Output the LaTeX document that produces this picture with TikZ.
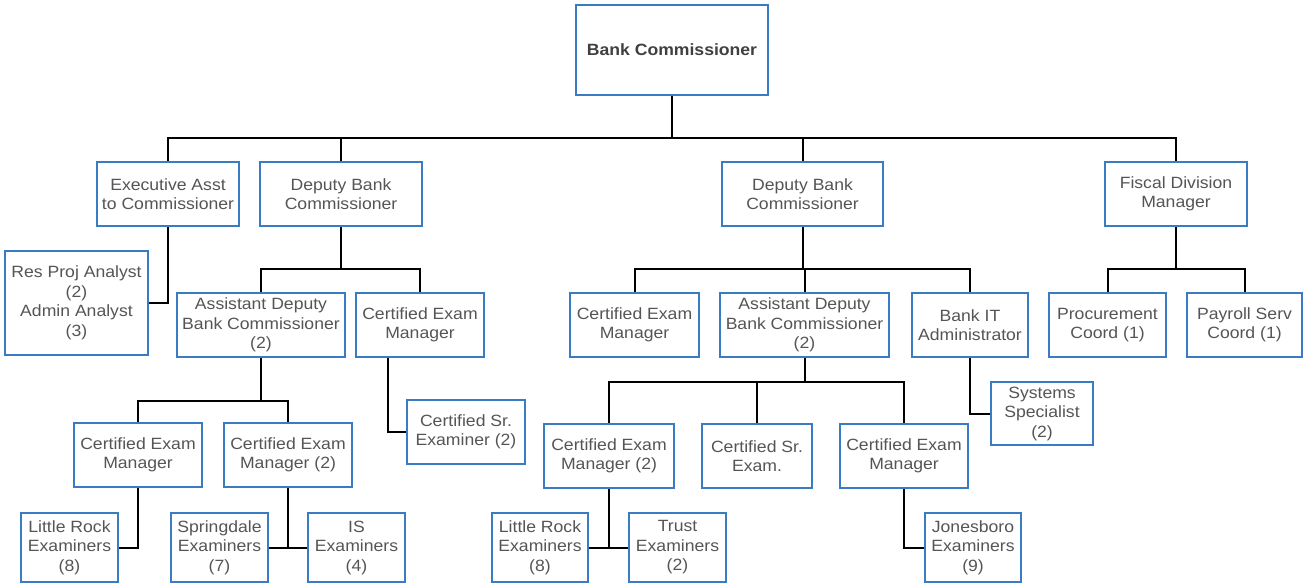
\documentclass[tikz,border=0pt]{standalone}
\usepackage{fontspec}
\setmainfont{Liberation Sans}[FakeStretch=1.08]
\definecolor{boxblue}{RGB}{58,124,196}
\definecolor{txtgray}{RGB}{85,85,85}
\definecolor{bctxt}{RGB}{64,64,64}
\begin{document}
\begin{tikzpicture}[x=1pt,y=-1pt,
  box/.style={draw=boxblue,line width=2.4pt,fill=white,inner sep=0pt,align=center,
    text=txtgray,font=\fontsize{16.3}{19.5}\selectfont,minimum height=64pt},
  conn/.style={draw=black,line width=2pt}]
\useasboundingbox[fill=white] (0,0) rectangle (1307,586);
% level 1
\node[box,minimum width=192pt,minimum height=90pt,text=bctxt,font=\fontsize{16.3}{19.5}\selectfont\bfseries] (bc) at (672,50) {Bank Commissioner};
% level 2
\node[box,minimum width=142pt] (ea) at (168,194) {Executive Asst\\to Commissioner};
\node[box,minimum width=162pt] (dl) at (341,194) {Deputy Bank\\Commissioner};
\node[box,minimum width=161pt] (dm) at (802.5,194) {Deputy Bank\\Commissioner};
\node[box,minimum width=142pt] (fm) at (1176,194) {Fiscal Division\\Manager};
% level 3
\node[box,minimum width=143pt,minimum height=104pt] (rp) at (76.5,303) {Res Proj Analyst\\(2)\\Admin Analyst\\(3)};
\node[box,minimum width=168pt] (adl) at (261,325) {Assistant Deputy\\Bank Commissioner\\(2)};
\node[box,minimum width=128pt] (cml) at (420,325) {Certified Exam\\Manager};
\node[box,minimum width=129pt] (cmm) at (634.5,325) {Certified Exam\\Manager};
\node[box,minimum width=169pt] (adm) at (804.5,325) {Assistant Deputy\\Bank Commissioner\\(2)};
\node[box,minimum width=116pt] (it) at (970,325) {Bank IT\\Administrator};
\node[box,minimum width=117pt] (pc) at (1107.5,325) {Procurement\\Coord (1)};
\node[box,minimum width=115pt] (ps) at (1244.5,325) {Payroll Serv\\Coord (1)};
\node[box,minimum width=102pt,minimum height=63pt] (ss) at (1042,413.5) {Systems\\Specialist\\(2)};
% level 4
\node[box,minimum width=128pt] (ce1) at (138,455) {Certified Exam\\Manager};
\node[box,minimum width=128pt] (ce2) at (288,455) {Certified Exam\\Manager (2)};
\node[box,minimum width=118pt] (sr1) at (466,432) {Certified Sr.\\Examiner (2)};
\node[box,minimum width=130pt] (ce3) at (609,456) {Certified Exam\\Manager (2)};
\node[box,minimum width=110pt] (sr2) at (757,456) {Certified Sr.\\Exam.};
\node[box,minimum width=128pt] (ce4) at (904,456) {Certified Exam\\Manager};
% level 5
\node[box,minimum width=97pt,minimum height=69pt] (lr1) at (69.5,547.5) {Little Rock\\Examiners\\(8)};
\node[box,minimum width=97pt,minimum height=69pt] (sp) at (219.5,547.5) {Springdale\\Examiners\\(7)};
\node[box,minimum width=97pt,minimum height=69pt] (is) at (356.5,547.5) {IS\\Examiners\\(4)};
\node[box,minimum width=96pt,minimum height=69pt] (lr2) at (540,547.5) {Little Rock\\Examiners\\(8)};
\node[box,minimum width=97pt,minimum height=69pt] (tr) at (677.5,547.5) {Trust\\Examiners\\(2)};
\node[box,minimum width=96pt,minimum height=69pt] (jb) at (973,547.5) {Jonesboro\\Examiners\\(9)};
% connectors
\begin{scope}[on background layer/.style={}]
\draw[conn] (bc.south) -- ++(0,42) -| (ea.north);
\draw[conn] (bc.south) -- ++(0,42) -| (dl.north);
\draw[conn] (bc.south) -- ++(0,42) -| (dm.north);
\draw[conn] (bc.south) -- ++(0,42) -| (fm.north);
\draw[conn] (ea.south) |- (rp.east);
\draw[conn] (dl.south) -- ++(0,42) -| (adl.north);
\draw[conn] (dl.south) -- ++(0,42) -| (cml.north);
\draw[conn] (dm.south) -- ++(0,42) -| (cmm.north);
\draw[conn] (dm.south) -- ++(0,42) -| (adm.north);
\draw[conn] (dm.south) -- ++(0,42) -| (it.north);
\draw[conn] (fm.south) -- ++(0,42) -| (pc.north);
\draw[conn] (fm.south) -- ++(0,42) -| (ps.north);
\draw[conn] (it.south) |- (ss.west);
\draw[conn] (adl.south) -- ++(0,43) -| (ce1.north);
\draw[conn] (adl.south) -- ++(0,43) -| (ce2.north);
\draw[conn] ([xshift=-32pt]cml.south) |- (sr1.west);
\draw[conn] (adm.south) -- ++(0,24) -| (ce3.north);
\draw[conn] (adm.south) -- ++(0,24) -| (sr2.north);
\draw[conn] (adm.south) -- ++(0,24) -| (ce4.north);
\draw[conn] (ce1.south) |- (lr1.east);
\draw[conn] (ce2.south) |- (sp.east);
\draw[conn] (ce2.south) |- (is.west);
\draw[conn] (ce3.south) |- (lr2.east);
\draw[conn] (ce3.south) |- (tr.west);
\draw[conn] (ce4.south) |- (jb.west);
\end{scope}
\end{tikzpicture}
\end{document}
